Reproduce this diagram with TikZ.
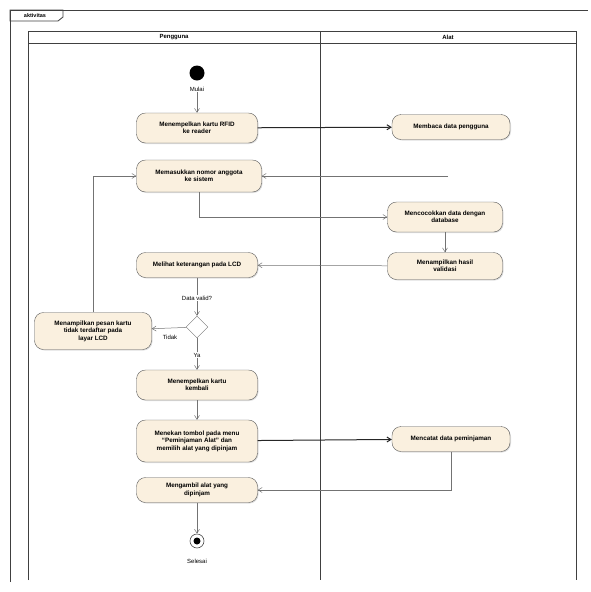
\documentclass[tikz,border=0pt]{standalone}
\usepackage{fontspec}
\setmainfont{Liberation Sans}
\usetikzlibrary{arrows.meta,shapes.geometric,shadows}
\definecolor{cream}{HTML}{FAF0DF}
\begin{document}
\begin{tikzpicture}[x=1pt,y=-1pt,
  act/.style={draw=black!65, fill=cream, rounded corners=9pt, minimum width=121pt, minimum height=#1, align=center, inner sep=1pt, font=\fontsize{6.3}{7.4}\selectfont\bfseries, drop shadow={shadow xshift=1pt,shadow yshift=-1pt,opacity=0.25}},
  act/.default=26pt,
  flow/.style={draw=black!55, line width=0.5pt, -{Straight Barb[length=4pt,width=5pt]}},
  xflow/.style={draw=black!85, line width=1pt, -{Straight Barb[length=4pt,width=5pt]}},
  lbl/.style={font=\fontsize{6}{7}\selectfont, fill=white, inner sep=1pt},
  lane/.style={draw=black!75, line width=0.8pt}]
\useasboundingbox (0,0) rectangle (591,592);
% frame
\draw[lane] (10,582) -- (10,10) -- (588,10);
\draw[lane] (10,10) -- (63,10) -- (63,17) -- (58,21) -- (10,21) -- cycle;
\node[lbl, font=\fontsize{5.5}{6}\selectfont\bfseries] (tab) at (35,15.5) {aktivitas};
% swimlanes
\draw[lane] (28,580) -- (28,31) -- (576,31) -- (576,580);
\draw[lane] (28,43) -- (576,43);
\draw[lane] (320,31) -- (320,580);
\node[lbl, font=\fontsize{6}{7}\selectfont\bfseries] (h1) at (174,37) {Pengguna};
\node[lbl, font=\fontsize{6}{7}\selectfont\bfseries] (h2) at (448,37) {Alat};
% nodes
\node[circle, fill=black, minimum size=15pt, inner sep=0pt] (init) at (197,73) {};
\node[lbl] (initl) at (197,89) {Mulai};
\node[act=30pt] (a1) at (197,128) {Menempelkan kartu RFID\\ke reader};
\node[act=25pt, minimum width=118pt] (b1) at (451,127) {Membaca data pengguna};
\node[act=32pt, minimum width=125pt] (a2) at (199,176) {Memasukkan nomor anggota\\ke sistem};
\node[act=30pt, minimum width=115pt] (b2) at (445,217) {Mencocokkan data dengan\\database};
\node[act=27pt, minimum width=115pt] (b3) at (445,266) {Menampilkan hasil\\validasi};
\node[act=25pt] (a3) at (197,265) {Melihat keterangan pada LCD};
\node[diamond, draw=black!55, fill=white, minimum size=22pt, inner sep=0pt] (dec) at (197,327) {};
\node[lbl] (decl) at (197,298) {Data valid?};
\node[act=37pt, minimum width=117pt] (l1) at (93,331) {Menampilkan pesan kartu\\tidak terdaftar pada\\layar LCD};
\node[lbl] (tidak) at (170,337) {Tidak};
\node[lbl] (ya) at (197,355) {Ya};
\node[act=30pt] (a4) at (197,385) {Menempelkan kartu\\kembali};
\node[act=42pt] (a5) at (197,441) {Menekan tombol pada menu\\``Peminjaman Alat'' dan\\memilih alat yang dipinjam};
\node[act=25pt, minimum width=118pt] (b4) at (451,439) {Mencatat data peminjaman};
\node[act=25pt] (a6) at (197,490) {Mengambil alat yang\\dipinjam};
\node[circle, draw=black!70, line width=0.6pt, minimum size=14pt, inner sep=0pt] (fin) at (197,541) {};
\node[circle, fill=black, minimum size=7pt, inner sep=0pt] (fin2) at (fin) {};
\node[lbl] (finl) at (197,561) {Selesai};
\coordinate (free) at (448,176);
% edges
\draw[flow] (initl) -- (a1);
\draw[xflow] (a1) -- (b1);
\draw[flow] (free) -- (a2);
\draw[flow] (a2.south) |- (b2.west);
\draw[flow] (b2) -- (b3);
\draw[flow] (b3) -- (a3);
\draw[flow, -] (a3) -- (decl);
\draw[flow] (decl) -- (dec);
\draw[flow] (dec) -- (l1);
\draw[flow] (l1.north) |- (a2.west);
\draw[flow, -] (dec) -- (ya);
\draw[flow] (ya) -- (a4);
\draw[flow] (a4) -- (a5);
\draw[xflow] (a5) -- (b4);
\draw[flow] (b4.south) |- (a6.east);
\draw[flow] (a6) -- (fin);
\end{tikzpicture}
\end{document}
